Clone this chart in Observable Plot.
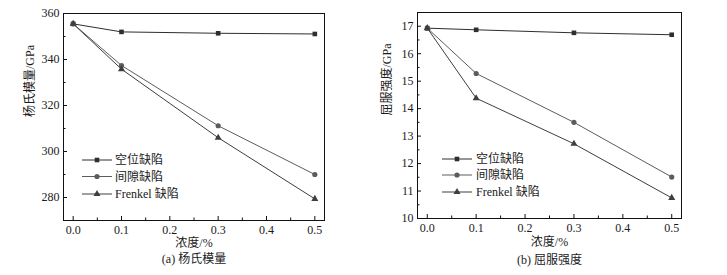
<!DOCTYPE html>
<html><head><meta charset="utf-8">
<script src="https://cdn.jsdelivr.net/npm/d3@7"></script>
<script src="https://cdn.jsdelivr.net/npm/@observablehq/plot@0.6"></script>
<style>
html,body{margin:0;padding:0;background:#fff;}
#wrap{display:flex;width:727px;height:275px;overflow:hidden;}
#wrap svg{display:block;}
#wrap text{font-family:"Liberation Serif","Noto Sans CJK SC",serif;}
</style></head><body><div id="wrap"></div>
<script>
// ---- data ----
const concentration = [0, 0.1, 0.3, 0.5];
const seriesNames = ["空位缺陷", "间隙缺陷", "Frenkel 缺陷"];
const seriesSymbols = ["square", "circle", "triangle"];
const seriesColors = ["#2e2e2e", "#5c5c5c", "#3e3e3e"];

const youngVacancy = [355.5, 352.0, 351.4, 351.1];
const youngInterstitial = [355.5, 337.4, 311.2, 290.0];
const youngFrenkel = [355.5, 335.8, 306.0, 279.4];

const yieldVacancy = [16.93, 16.87, 16.76, 16.69];
const yieldInterstitial = [16.93, 15.28, 13.50, 11.51];
const yieldFrenkel = [16.93, 14.38, 12.72, 10.75];

const xTicks = [0, 0.1, 0.2, 0.3, 0.4, 0.5];
const xMinorTicks = [0.05, 0.15, 0.25, 0.35, 0.45];
const youngTicks = [280, 300, 320, 340, 360];
const youngMinorTicks = [290, 310, 330, 350];
const yieldTicks = [10, 11, 12, 13, 14, 15, 16, 17];
const yieldMinorTicks = [10.5, 11.5, 12.5, 13.5, 14.5, 15.5, 16.5];

const FONT = "'Liberation Serif', 'Noto Sans CJK SC', serif";
const d3Symbols = {square: d3.symbolSquare, circle: d3.symbolCircle, triangle: d3.symbolTriangle};

function tidy(seriesValues) {
  const rows = [];
  seriesValues.forEach((vals, i) => {
    vals.forEach((v, j) => rows.push({series: seriesNames[i], x: concentration[j], y: v}));
  });
  return rows;
}

function legendMark(L) {
  return (index, scales, values, dims) => {
    const g = d3.create("svg:g").style("font-family", FONT).style("font-size", "12px")
      .attr("fill", "#1a1a1a").attr("text-anchor", "start");
    seriesNames.forEach((name, i) => {
      const y = dims.marginTop + L.rows[i];
      const xl = dims.marginLeft;
      g.append("line")
        .attr("x1", xl + L.line[0]).attr("x2", xl + L.line[1])
        .attr("y1", y).attr("y2", y)
        .attr("stroke", seriesColors[i]).attr("stroke-width", 1);
      g.append("path")
        .attr("d", d3.symbol(d3Symbols[seriesSymbols[i]], Math.PI * L.r * L.r)())
        .attr("transform", `translate(${xl + L.marker},${y})`)
        .attr("fill", seriesColors[i]);
      g.append("text")
        .attr("x", xl + L.text).attr("y", y).attr("dy", "0.35em")
        .attr("text-anchor", "start")
        .style("font-family", FONT)
        .text(name);
    });
    return g.node();
  };
}

function panel(cfg) {
  const fw = cfg.width - cfg.margin[3] - cfg.margin[1];
  const fh = 275 - cfg.margin[0] - cfg.margin[2];
  const rows = tidy(cfg.series);
  return Plot.plot({
    width: cfg.width,
    height: 275,
    marginTop: cfg.margin[0], marginRight: cfg.margin[1],
    marginBottom: cfg.margin[2], marginLeft: cfg.margin[3],
    style: {fontFamily: FONT, fontSize: "12px", color: "#1a1a1a", background: "#fff"},
    x: {domain: [-0.02, 0.52]},
    y: {domain: cfg.yDomain},
    color: {domain: seriesNames, range: seriesColors},
    symbol: {domain: seriesNames, range: seriesSymbols},
    marks: [
      Plot.frame({stroke: "#111", strokeWidth: 1}),
      Plot.tickX(xTicks, {x: d => d, insetTop: fh - 4, stroke: "#111"}),
      Plot.tickX(xMinorTicks, {x: d => d, insetTop: fh - 2.5, stroke: "#111"}),
      Plot.tickY(cfg.yTicks, {y: d => d, insetRight: fw - 4, stroke: "#111"}),
      Plot.tickY(cfg.yMinorTicks, {y: d => d, insetRight: fw - 2.5, stroke: "#111"}),
      Plot.axisX({ticks: xTicks, tickSize: 0, tickPadding: 5, tickFormat: d3.format(".1f"), label: null}),
      Plot.axisY({ticks: cfg.yTicks, tickSize: 0, tickPadding: 4, tickFormat: d => String(d), label: null}),
      Plot.line(rows, {x: "x", y: "y", z: "series", stroke: "series", strokeWidth: 1}),
      Plot.dot(rows, {x: "x", y: "y", symbol: "series", fill: "series", r: 2.6}),
      Plot.text([cfg.xLabel], {text: d => d, frameAnchor: "bottom", dy: cfg.xLabelDy, lineAnchor: "middle", fill: "#1a1a1a"}),
      Plot.text([cfg.caption], {text: d => d, frameAnchor: "bottom", dy: cfg.captionDy, lineAnchor: "middle", fill: "#1a1a1a"}),
      Plot.text([cfg.yLabel], {text: d => d, frameAnchor: "left", dx: cfg.yLabelDx, rotate: -90, lineAnchor: "middle", fill: "#1a1a1a"}),
      legendMark(cfg.legend)
    ]
  });
}

const wrap = document.getElementById("wrap");
wrap.append(panel({
  width: 363, margin: [13, 39, 55, 63],
  yDomain: [270, 360], yTicks: youngTicks, yMinorTicks: youngMinorTicks,
  series: [youngVacancy, youngInterstitial, youngFrenkel],
  xLabel: "浓度/%", xLabelDy: 23,
  caption: "(a) 杨氏模量", captionDy: 39,
  yLabel: "杨氏模量/GPa", yLabelDx: -33,
  legend: {rows: [147, 163.5, 181], line: [19, 49], marker: 34, text: 52, r: 2.6}
}));
wrap.append(panel({
  width: 364, margin: [12, 46, 57, 54],
  yDomain: [10, 17.5], yTicks: yieldTicks, yMinorTicks: yieldMinorTicks,
  series: [yieldVacancy, yieldInterstitial, yieldFrenkel],
  xLabel: "浓度/%", xLabelDy: 24,
  caption: "(b) 屈服强度", captionDy: 42,
  yLabel: "屈服强度/GPa", yLabelDx: -30,
  legend: {rows: [147, 163, 180], line: [25, 55], marker: 40, text: 59, r: 2.6}
}));
</script></body></html>
